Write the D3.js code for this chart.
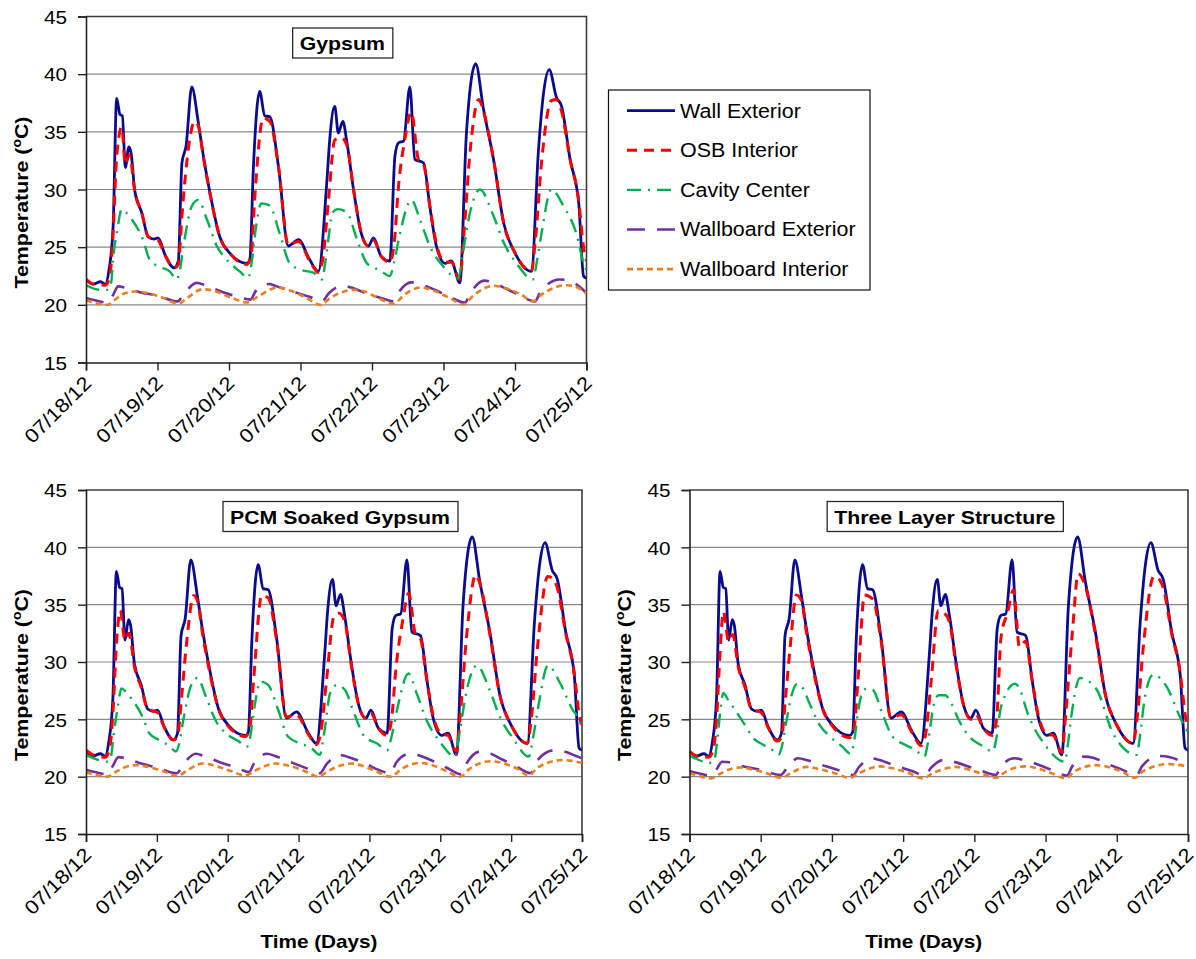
<!DOCTYPE html>
<html>
<head>
<meta charset="utf-8">
<script src="https://cdn.jsdelivr.net/npm/d3@7"></script>
<style>
  body { margin: 0; background: #fff; }
  svg { display: block; }
  text { font-family: "Liberation Sans", Arial, Helvetica, sans-serif; fill: #000; }
</style>
</head>
<body>
<svg id="chart" width="1196" height="959"></svg>
<script>
// ---- Axis definitions -------------------------------------------------------
const dayLabels = ["07/18/12", "07/19/12", "07/20/12", "07/21/12", "07/22/12", "07/23/12", "07/24/12", "07/25/12"];
const dayHours = [0, 24, 48, 72, 96, 120, 144, 168];
const tempTicks = [15, 20, 25, 30, 35, 40, 45];
const gridTemps = [20, 25, 30, 35, 40];
const seriesNames = ["Wall Exterior", "OSB Interior", "Cavity Center", "Wallboard Exterior", "Wallboard Interior"];
const panelTitles = ["Gypsum", "PCM Soaked Gypsum", "Three Layer Structure"];

// ---- Measured temperatures, [hours since 07/18/12 00:00, °C] ---------------
// Exterior surface of the wall (same weather for all three walls)
const wallExterior = [
  [0, 22.2], [2.4, 21.8], [4.8, 22.0], [6.5, 21.8], [7.7, 23.0], [9.1, 26.8], [10.3, 37.9], [11.4, 36.5],
  [12.2, 36.4], [13.2, 31.9], [14.4, 33.7], [15.1, 33.2], [16.4, 29.85], [18.7, 28.0], [20.9, 25.9], [22.8, 25.7],
  [24.2, 25.8], [26.5, 24.35], [29.6, 23.2], [31.0, 23.8], [32.2, 32.3], [33.6, 33.8], [35.5, 38.9], [37.7, 35.8],
  [39.4, 32.9], [41.5, 29.85], [44.9, 25.9], [48.2, 24.5], [54.0, 23.6], [55.0, 23.9], [56.2, 32.0], [58.3, 38.5],
  [60.0, 36.4], [61.7, 36.3], [64.6, 32.0], [67.9, 25.1], [71.3, 25.65], [75.1, 23.9], [78.0, 22.9], [80.9, 30.9],
  [81.8, 34.3], [83.5, 37.2], [84.7, 34.9], [86.2, 35.9], [87.6, 34.05], [89.8, 30.0], [92.4, 26.2], [94.8, 25.1],
  [96.5, 25.8], [99.1, 24.2], [102.0, 23.8], [103.7, 32.9], [104.9, 34.05], [106.6, 34.2], [108.7, 38.9], [110.4, 32.6],
  [113.3, 32.3], [115.4, 28.55], [117.6, 25.1], [120.5, 23.6], [122.6, 23.8], [125.5, 21.9], [127.7, 34.9], [130.8, 40.9],
  [133.4, 37.0], [136.8, 32.6], [140.2, 27.1], [144.0, 24.5], [149.5, 22.9], [151.9, 33.5], [153.6, 38.4], [155.5, 40.4],
  [157.9, 38.0], [159.6, 37.25], [162.5, 32.6], [165.4, 28.8], [167.0, 22.5], [168, 22.3]
];

// Gypsum wall
const gypsumOSB = [
  [0, 22.2], [2.4, 21.8], [6.5, 21.7], [8.0, 22.5], [9.1, 26.2], [10.3, 32.9], [12.0, 35.4], [13.2, 32.2],
  [14.6, 33.0], [16.4, 29.8], [18.7, 28.0], [20.9, 25.9], [24.2, 25.6], [26.5, 24.3], [29.6, 23.2], [31.0, 23.5],
  [32.2, 27.7], [33.8, 32.3], [36.5, 35.9], [37.7, 35.5], [39.4, 32.8], [41.5, 29.8], [44.9, 25.9], [48.2, 24.5],
  [54.0, 23.5], [55.5, 24.5], [56.6, 29.1], [59.5, 36.2], [61.7, 35.9], [64.6, 32.0], [67.9, 25.2], [71.3, 25.5],
  [75.1, 23.8], [78.0, 22.8], [79.5, 24.0], [81.4, 29.1], [83.5, 34.3], [85.7, 34.5], [87.6, 33.8], [89.8, 30.0],
  [92.4, 26.2], [94.8, 25.1], [96.5, 25.6], [99.1, 24.2], [102.0, 23.7], [103.5, 25.5], [104.9, 30.3], [107.0, 34.3],
  [109.2, 36.7], [111.6, 32.6], [113.3, 32.2], [115.4, 28.6], [117.6, 25.3], [120.5, 23.7], [122.6, 23.7], [125.5, 22.2],
  [126.8, 26.0], [129.0, 33.5], [131.8, 37.8], [133.4, 36.8], [136.8, 32.6], [140.2, 27.1], [144.0, 24.5], [149.5, 22.9],
  [150.8, 25.5], [153.0, 32.6], [156.2, 37.7], [157.9, 37.8], [159.6, 36.8], [162.5, 32.6], [165.4, 29.0], [167.0, 25.0],
  [168, 23.8]
];
const gypsumCavity = [
  [0, 21.7], [4.8, 21.3], [7.5, 21.3], [8.5, 22.0], [9.1, 24.0], [10.5, 26.5], [12.0, 28.3], [13.5, 28.0],
  [15.4, 27.4], [19.2, 25.6], [21.4, 23.9], [24.7, 23.3], [28.1, 22.9], [30.5, 22.2], [31.5, 23.0], [32.9, 25.4],
  [35.5, 28.55], [37.7, 29.1], [40.6, 27.4], [43.9, 25.1], [47.3, 23.9], [51.6, 22.9], [54.5, 22.35], [55.5, 23.5],
  [57.1, 26.8], [58.8, 28.8], [61.7, 28.6], [65.0, 26.2], [68.4, 23.6], [72.5, 23.0], [76.3, 22.8], [79.2, 22.2],
  [80.5, 24.0], [82.8, 28.0], [84.5, 28.3], [87.6, 28.0], [91.0, 25.65], [94.3, 23.6], [98.6, 23.0], [102.0, 22.5],
  [103.5, 23.8], [105.4, 26.2], [109.2, 29.1], [112.1, 27.4], [115.4, 25.1], [120.0, 23.3], [125.0, 22.3], [126.5, 24.5],
  [128.9, 28.0], [132.2, 30.0], [136.8, 27.7], [140.2, 25.4], [144.5, 23.6], [150.0, 22.2], [151.5, 24.0], [152.9, 26.2],
  [156.2, 30.0], [160.3, 28.55], [164.9, 25.9], [167.0, 23.6], [168, 23.0]
];
const gypsumWallboardExt = [
  [0, 20.6], [3, 20.4], [7.2, 20.2], [9, 20.8], [10.8, 21.6], [13, 21.5], [18, 21.1], [24, 20.8],
  [30.7, 20.3], [33, 21.0], [37.2, 21.9], [40, 21.7], [46, 21.1], [51, 20.7], [55.2, 20.45], [57, 21.2],
  [61.4, 21.8], [64, 21.6], [70, 21.1], [75, 20.7], [79.2, 20.3], [81.5, 21.0], [86, 21.65], [89, 21.5],
  [95, 20.9], [99, 20.6], [103.2, 20.3], [105, 21.1], [109.2, 21.95], [112, 21.8], [118, 21.2], [122, 20.7],
  [127.2, 20.2], [129, 21.0], [133.7, 22.1], [136, 22.0], [141, 21.4], [145, 20.9], [150.7, 20.3], [152.5, 21.1],
  [159, 22.2], [162, 22.1], [166, 21.5], [168, 21.0]
];
const gypsumWallboardInt = [
  [0, 20.4], [4, 20.1], [7.2, 20.0], [10, 20.5], [13, 21.0], [16.8, 21.15], [21, 21.0], [26, 20.6],
  [31, 20.1], [34, 20.6], [39.1, 21.35], [43, 21.2], [49, 20.6], [54, 20.2], [57, 20.6], [64.3, 21.5],
  [68, 21.3], [74, 20.6], [78.7, 20.0], [82, 20.6], [89.8, 21.3], [93, 21.2], [98, 20.6], [103.2, 20.1],
  [107, 20.9], [112.3, 21.5], [116, 21.3], [122, 20.6], [126.7, 20.05], [130, 20.8], [136.8, 21.65], [140, 21.5],
  [146, 20.9], [150, 20.3], [153, 20.9], [161.3, 21.7], [164, 21.6], [168, 21.0]
];

// PCM soaked gypsum wall
const pcmOSB = [
  [0, 22.3], [2.4, 21.9], [6.5, 21.7], [8.0, 22.4], [9.1, 25.5], [10.3, 31.5], [11.6, 34.5], [13.2, 31.9],
  [14.6, 32.5], [16.4, 29.6], [18.7, 27.8], [20.9, 25.9], [24.2, 25.6], [26.5, 24.3], [29.6, 23.2], [31.0, 23.5],
  [32.4, 27.0], [34.0, 31.5], [36.5, 35.8], [37.9, 35.2], [39.4, 32.6], [41.5, 29.6], [44.9, 25.9], [48.2, 24.4],
  [54.0, 23.5], [55.5, 24.3], [56.8, 28.5], [59.5, 35.8], [61.7, 35.6], [64.6, 31.8], [67.9, 25.2], [71.3, 25.4],
  [75.1, 23.8], [78.0, 22.8], [79.5, 23.8], [81.5, 28.5], [84.0, 34.0], [85.7, 34.25], [87.6, 33.6], [89.8, 29.8],
  [92.4, 26.2], [94.8, 25.1], [96.5, 25.5], [99.1, 24.2], [102.0, 23.6], [103.5, 25.0], [105.0, 29.5], [107.2, 33.5],
  [109.3, 36.0], [111.6, 32.4], [113.3, 32.0], [115.4, 28.5], [117.6, 25.3], [120.5, 23.7], [122.6, 23.6], [125.5, 22.2],
  [126.8, 25.5], [129.0, 32.5], [132.0, 37.6], [133.6, 36.7], [136.8, 32.4], [140.2, 27.1], [144.0, 24.5], [149.5, 22.9],
  [150.8, 25.0], [153.0, 31.5], [156.4, 37.45], [158.0, 37.3], [159.6, 36.5], [162.5, 32.5], [165.4, 29.0], [167.0, 25.5],
  [168, 24.5]
];
const pcmCavity = [
  [0, 21.9], [5, 21.4], [7.5, 21.3], [8.5, 21.8], [9.3, 23.5], [10.7, 26.0], [12.0, 27.7], [13.5, 27.4],
  [15.4, 26.8], [19.2, 25.2], [21.4, 23.8], [24.7, 23.2], [28.1, 22.7], [30.5, 22.2], [31.5, 22.8], [33.0, 25.0],
  [35.5, 27.9], [37.7, 28.6], [40.6, 27.0], [43.9, 24.9], [47.3, 23.8], [51.6, 23.1], [54.5, 22.6], [55.5, 23.3],
  [57.2, 26.3], [59.0, 28.3], [61.7, 28.0], [65.0, 25.9], [68.4, 23.5], [72.5, 22.9], [76.3, 22.5], [79.2, 21.9],
  [80.5, 23.5], [82.8, 27.4], [85.0, 28.0], [87.6, 27.6], [91.0, 25.4], [94.3, 23.5], [98.6, 22.9], [102.0, 22.3],
  [103.5, 23.5], [105.5, 26.0], [109.2, 29.0], [112.1, 27.2], [115.4, 24.9], [120.0, 23.0], [125.0, 21.75], [126.5, 23.8],
  [129.0, 27.6], [132.4, 29.7], [136.8, 27.5], [140.2, 25.2], [144.5, 23.4], [150.0, 21.75], [151.5, 23.5], [153.0, 25.8],
  [156.5, 29.7], [160.3, 28.3], [164.9, 25.8], [167.0, 25.0], [168, 24.2]
];
const pcmWallboardExt = [
  [0, 20.6], [3, 20.4], [7.2, 20.2], [9, 20.9], [11, 21.7], [13.5, 21.6], [18, 21.2], [24, 20.8],
  [30.7, 20.3], [33, 21.1], [37.2, 22.0], [40, 21.8], [46, 21.2], [51, 20.8], [55.2, 20.4], [57, 21.2],
  [61.4, 22.0], [64, 21.8], [70, 21.2], [75, 20.7], [79.2, 20.3], [81.5, 21.1], [86, 21.9], [89, 21.7],
  [95, 21.1], [99, 20.6], [103.2, 20.3], [105, 21.2], [109.5, 22.0], [112, 21.9], [118, 21.3], [122, 20.8],
  [127.2, 20.2], [129, 21.2], [133.7, 22.2], [136, 22.1], [141, 21.5], [145, 21.0], [150.7, 20.3], [152.5, 21.3],
  [158.5, 22.3], [162, 22.2], [166, 21.8], [168, 21.6]
];
const pcmWallboardInt = [
  [0, 20.4], [4, 20.1], [7.2, 20.0], [10, 20.4], [13, 20.8], [17, 21.0], [21, 20.85], [26, 20.5],
  [31, 20.05], [34, 20.5], [39.5, 21.15], [43, 21.0], [49, 20.5], [54, 20.1], [57, 20.5], [64.3, 21.15],
  [68, 21.0], [74, 20.5], [78.7, 20.0], [82, 20.5], [90, 21.15], [93, 21.0], [98, 20.5], [103.2, 20.0],
  [107, 20.7], [113, 21.2], [116, 21.1], [122, 20.5], [126.7, 20.0], [130, 20.7], [137, 21.35], [140, 21.25],
  [146, 20.7], [150, 20.1], [153, 20.8], [161.5, 21.45], [164, 21.4], [168, 21.2]
];

// Three layer structure wall
const threeLayerOSB = [
  [0, 22.2], [2.4, 21.8], [6.5, 21.7], [8.0, 22.3], [9.1, 25.0], [10.3, 30.8], [11.4, 34.4], [13.2, 31.8],
  [14.6, 32.4], [16.4, 29.6], [18.7, 27.8], [20.9, 25.9], [24.2, 25.6], [26.5, 24.3], [29.6, 23.1], [31.0, 23.4],
  [32.4, 27.0], [34.0, 31.5], [36.0, 35.85], [37.7, 35.4], [39.4, 32.6], [41.5, 29.6], [44.9, 25.9], [48.2, 24.4],
  [54.0, 23.4], [55.5, 24.3], [56.8, 28.5], [59.0, 35.85], [61.7, 35.5], [64.6, 31.8], [67.9, 25.1], [71.3, 25.4],
  [75.1, 23.8], [78.0, 22.7], [79.5, 23.6], [81.5, 28.5], [83.8, 34.5], [85.7, 34.3], [87.6, 33.5], [89.8, 29.8],
  [92.4, 26.2], [94.8, 25.0], [96.5, 25.4], [99.1, 24.2], [102.0, 23.6], [103.5, 25.0], [105.0, 32.2], [107.2, 34.3],
  [109.2, 36.3], [111.2, 31.3], [113.3, 31.8], [115.4, 28.5], [117.6, 25.3], [120.5, 23.7], [122.6, 23.6], [125.5, 22.1],
  [126.8, 25.5], [129.0, 32.5], [131.0, 37.7], [133.4, 36.6], [136.8, 32.4], [140.2, 27.1], [144.0, 24.5], [149.5, 22.9],
  [150.8, 25.0], [153.0, 31.5], [156.5, 37.45], [158.0, 37.3], [159.6, 36.5], [162.5, 32.5], [165.4, 29.0], [167.0, 25.5],
  [168, 24.0]
];
const threeLayerCavity = [
  [0, 21.8], [5, 21.3], [7.5, 21.2], [8.5, 21.6], [9.5, 23.5], [10.5, 26.0], [11.4, 27.3], [13.0, 26.7],
  [15.4, 25.8], [19.2, 24.3], [21.4, 23.4], [24.7, 22.8], [28.1, 22.3], [30.0, 21.9], [31.0, 22.5], [32.5, 24.6],
  [34.5, 27.2], [36.3, 28.1], [38.0, 27.8], [40.6, 26.3], [43.9, 24.5], [47.3, 23.5], [51.6, 22.6], [54.3, 22.0],
  [55.3, 22.8], [57.0, 26.0], [58.5, 27.5], [60.0, 27.7], [61.7, 27.6], [65.0, 25.5], [68.4, 23.5], [72.5, 22.8],
  [76.3, 22.3], [79.2, 21.75], [80.3, 22.9], [82.5, 26.5], [84.0, 27.1], [86.2, 27.1], [88.0, 26.5], [91.0, 24.8],
  [94.3, 23.5], [98.6, 22.7], [102.2, 22.2], [103.4, 23.3], [105.0, 26.1], [109.7, 28.1], [111.5, 27.5], [113.6, 25.8],
  [120.3, 22.6], [126.5, 21.3], [127.6, 23.0], [128.8, 25.5], [131.6, 28.6], [137.2, 27.6], [142.7, 23.8], [150.7, 21.9],
  [151.8, 23.5], [153.5, 27.0], [156.3, 28.9], [160.8, 27.85], [165.3, 25.2], [168, 23.8]
];
const threeLayerWallboardExt = [
  [0, 20.5], [3, 20.3], [7.2, 20.1], [9, 20.6], [11, 21.3], [13.5, 21.25], [18, 20.9], [24, 20.6],
  [30.7, 20.15], [33, 20.8], [36.5, 21.6], [40, 21.4], [46, 20.9], [51, 20.5], [55.2, 20.15], [57, 20.8],
  [61.4, 21.6], [64, 21.45], [70, 20.9], [75, 20.5], [79.2, 20.1], [81.5, 20.8], [85.5, 21.45], [89, 21.3],
  [95, 20.8], [99, 20.45], [103.2, 20.15], [105, 20.9], [109.5, 21.6], [112, 21.5], [118, 21.0], [122, 20.6],
  [127.2, 20.1], [129, 20.9], [133, 21.75], [136, 21.65], [141, 21.1], [145, 20.7], [150.7, 20.15], [152.5, 20.9],
  [158, 21.8], [162, 21.7], [166, 21.3], [168, 21.1]
];
const threeLayerWallboardInt = [
  [0, 20.3], [4, 20.0], [7.2, 19.85], [10, 20.2], [13, 20.6], [17, 20.8], [21, 20.65], [26, 20.3],
  [31, 19.9], [34, 20.3], [39.5, 20.85], [43, 20.7], [49, 20.3], [54, 19.9], [57, 20.3], [64.3, 20.9],
  [68, 20.75], [74, 20.3], [78.7, 19.85], [82, 20.3], [90, 20.85], [93, 20.7], [98, 20.3], [103.2, 19.9],
  [107, 20.5], [113, 20.9], [116, 20.8], [122, 20.3], [126.7, 19.85], [130, 20.5], [137, 21.0], [140, 20.9],
  [146, 20.4], [150, 19.9], [153, 20.5], [161.5, 21.1], [164, 21.05], [168, 20.9]
];

// ---- Series styling ----------------------------------------------------------
const seriesStyle = [
  { color: "#0b0b8f", width: 2.8, dash: null },
  { color: "#ff0000", width: 3, dash: "10,7" },
  { color: "#00b050", width: 2.4, dash: "14,7,2,7" },
  { color: "#7030a0", width: 2.6, dash: "18,12" },
  { color: "#ee7d1e", width: 2.6, dash: "6,4" }
];

// ---- Panel layout ------------------------------------------------------------
const panels = [
  { title: panelTitles[0], left: 86, right: 586.5, top: 16.5, bottom: 362.5, xTitle: false,
    data: [wallExterior, gypsumOSB, gypsumCavity, gypsumWallboardExt, gypsumWallboardInt] },
  { title: panelTitles[1], left: 86, right: 582, top: 490, bottom: 834, xTitle: true,
    data: [wallExterior, pcmOSB, pcmCavity, pcmWallboardExt, pcmWallboardInt] },
  { title: panelTitles[2], left: 689.5, right: 1188, top: 490, bottom: 834, xTitle: true,
    data: [wallExterior, threeLayerOSB, threeLayerCavity, threeLayerWallboardExt, threeLayerWallboardInt] }
];

const svg = d3.select("#chart");

// Text in the chart is set a little wider than the default face
function widen(sel, k) {
  sel.each(function () {
    const w = this.getComputedTextLength();
    this.setAttribute("textLength", (w * k).toFixed(1));
    this.setAttribute("lengthAdjust", "spacingAndGlyphs");
  });
  return sel;
}

panels.forEach((p, i) => {
  const x = d3.scaleLinear().domain([0, 168]).range([p.left, p.right]);
  const y = d3.scaleLinear().domain([15, 45]).range([p.bottom, p.top]);
  const g = svg.append("g").attr("class", "panel");

  // horizontal gridlines
  g.selectAll("line.grid").data(gridTemps).join("line")
    .attr("class", "grid")
    .attr("x1", p.left).attr("x2", p.right)
    .attr("y1", d => y(d)).attr("y2", d => y(d))
    .attr("stroke", "#8a8a8a").attr("stroke-width", 1.2);

  // plot frame (top and right)
  g.append("path")
    .attr("d", `M${p.left},${p.top}H${p.right}V${p.bottom}`)
    .attr("fill", "none").attr("stroke", "#3c3c3c").attr("stroke-width", 1.6);

  // data lines
  const clipId = "clip" + i;
  svg.append("clipPath").attr("id", clipId).append("rect")
    .attr("x", p.left).attr("y", p.top).attr("width", p.right - p.left).attr("height", p.bottom - p.top);
  const line = d3.line().x(d => x(d[0])).y(d => y(d[1])).curve(d3.curveMonotoneX);
  const lines = g.append("g").attr("clip-path", `url(#${clipId})`);
  p.data.forEach((series, k) => {
    const s = seriesStyle[k];
    lines.append("path")
      .datum(series)
      .attr("d", line)
      .attr("fill", "none")
      .attr("stroke", s.color)
      .attr("stroke-width", s.width)
      .attr("stroke-linejoin", "round")
      .attr("stroke-dasharray", s.dash);
  });

  // y axis
  const yAxis = g.append("g").attr("transform", `translate(${p.left},0)`)
    .call(d3.axisLeft(y).tickValues(tempTicks).tickSize(8).tickPadding(11).tickFormat(d3.format("d")));
  yAxis.select(".domain").attr("stroke", "#222").attr("stroke-width", 1.6);
  yAxis.selectAll(".tick line").attr("stroke", "#222").attr("stroke-width", 1.4);
  yAxis.selectAll(".tick text")
    .attr("font-family", "'Liberation Sans', Arial, sans-serif")
    .attr("font-size", 18.5).attr("fill", "#000").attr("dy", "0.36em")
    .call(widen, 1.12);

  // x axis
  const xAxis = g.append("g").attr("transform", `translate(0,${p.bottom})`)
    .call(d3.axisBottom(x).tickValues(dayHours).tickSize(8).tickFormat((d, j) => dayLabels[j]));
  xAxis.select(".domain").attr("stroke", "#222").attr("stroke-width", 1.6);
  xAxis.selectAll(".tick line").attr("stroke", "#222").attr("stroke-width", 1.4);
  xAxis.selectAll(".tick text")
    .attr("font-family", "'Liberation Sans', Arial, sans-serif")
    .attr("font-size", 19.5).attr("fill", "#000")
    .attr("text-anchor", "end")
    .attr("x", 0).attr("y", 0).attr("dy", 0)
    .attr("transform", "translate(6,22) rotate(-45)")
    .call(widen, 1.12);

  // y axis title
  const yt = g.append("text")
    .attr("transform", `translate(${p.left - 58.5},${(p.top + p.bottom) / 2 + 13}) rotate(-90)`)
    .attr("text-anchor", "middle")
    .attr("font-size", 18.6).attr("font-weight", "bold");
  yt.append("tspan").text("Temperature (");
  yt.append("tspan").text("o").attr("font-size", 12).attr("dy", -7);
  yt.append("tspan").text("C)").attr("dy", 7);
  widen(yt, 1.15);

  // x axis title
  if (p.xTitle) {
    g.append("text")
      .attr("x", (p.left + p.right) / 2 - 15).attr("y", 948)
      .attr("text-anchor", "middle")
      .attr("font-size", 18.5).attr("font-weight", "bold")
      .text("Time (Days)")
      .call(widen, 1.12);
  }

  // panel title box
  const cx = (p.left + p.right) / 2 + 6;
  const tt = g.append("text")
    .attr("x", cx).attr("y", p.top + 33.5)
    .attr("text-anchor", "middle")
    .attr("font-size", 19).attr("font-weight", "bold")
    .text(p.title)
    .call(widen, 1.12);
  const tw = +tt.attr("textLength");
  g.insert("rect", () => tt.node())
    .attr("x", cx - tw / 2 - 7).attr("y", p.top + 11.5)
    .attr("width", tw + 15).attr("height", 30)
    .attr("fill", "#fff").attr("stroke", "#2a2a2a").attr("stroke-width", 1.3);
});

// ---- Legend --------------------------------------------------------------------
const legend = svg.append("g");
legend.append("rect")
  .attr("x", 608.5).attr("y", 90).attr("width", 261.5).attr("height", 200)
  .attr("fill", "#fff").attr("stroke", "#111").attr("stroke-width", 1.2);
seriesNames.forEach((name, k) => {
  const cy = 110.7 + k * 39.6;
  const s = seriesStyle[k];
  legend.append("line")
    .attr("x1", 627).attr("x2", 675).attr("y1", cy).attr("y2", cy)
    .attr("stroke", s.color).attr("stroke-width", s.width)
    .attr("stroke-dasharray", s.dash);
  legend.append("text")
    .attr("x", 680).attr("y", cy + 6.8)
    .attr("font-size", 19.5)
    .text(name)
    .call(widen, 1.1);
});
</script>
</body>
</html>
